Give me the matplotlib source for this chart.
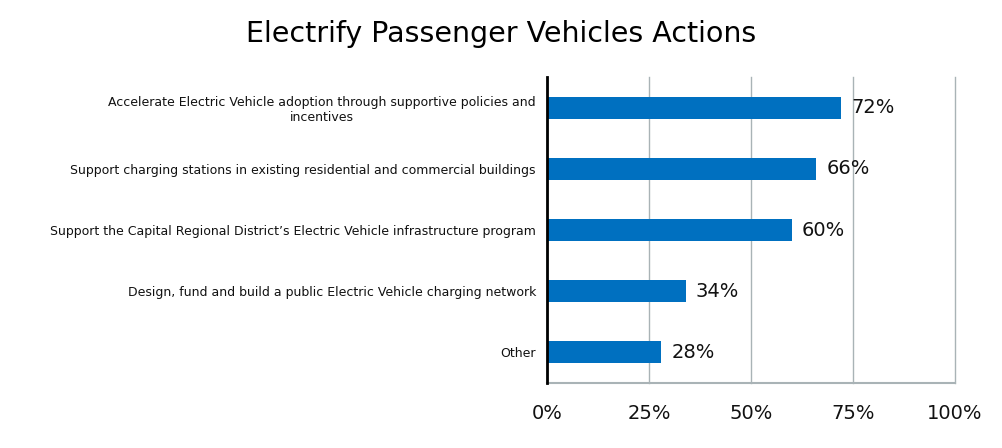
import matplotlib.pyplot as plt

# data
categories = [
    "Accelerate Electric Vehicle adoption through supportive policies and\nincentives",
    "Support charging stations in existing residential and commercial buildings",
    "Support the Capital Regional District\u2019s Electric Vehicle infrastructure program",
    "Design, fund and build a public Electric Vehicle charging network",
    "Other",
]
values = [72, 66, 60, 34, 28]
xticks = [0, 25, 50, 75, 100]
xtick_labels = ["0%", "25%", "50%", "75%", "100%"]

bar_color = "#0070c0"
grid_color = "#a9b3b6"

plt.rcParams['font.family'] = ['DejaVu Sans']

fig = plt.figure(figsize=(10.02, 4.48), dpi=100)
ax = fig.add_axes([0.546, 0.145, 0.407, 0.683])

y = list(range(len(categories)))
ax.barh(y, values, height=0.36, color=bar_color, zorder=3)

# value labels
for yi, v in zip(y, values):
    ax.text(v + 2.5, yi, f"{v}%", va='center', ha='left', fontsize=14, color='#111111')

ax.set_xlim(0, 100)
ax.set_ylim(len(categories) - 0.5, -0.5)
ax.set_xticks(xticks)
ax.set_xticklabels(xtick_labels, fontsize=14, color='#111111')
ax.set_yticks(y)
ax.set_yticklabels(categories, fontsize=9, multialignment='center', color='#111111')
ax.tick_params(axis='x', length=0, pad=15)
ax.tick_params(axis='y', length=0, pad=8)

ax.grid(axis='x', color=grid_color, linewidth=1, zorder=0)
for gl in ax.get_xgridlines():
    gl.set_clip_on(False)
ax.spines['top'].set_visible(False)
ax.spines['right'].set_visible(False)
ax.spines['left'].set_color('black')
ax.spines['left'].set_linewidth(2)
ax.spines['left'].set_zorder(4)
ax.spines['bottom'].set_color(grid_color)
ax.spines['bottom'].set_linewidth(1.5)

fig.suptitle("Electrify Passenger Vehicles Actions", fontsize=20.5, y=0.955, x=0.5)

fig.savefig("out.png", dpi=100)
